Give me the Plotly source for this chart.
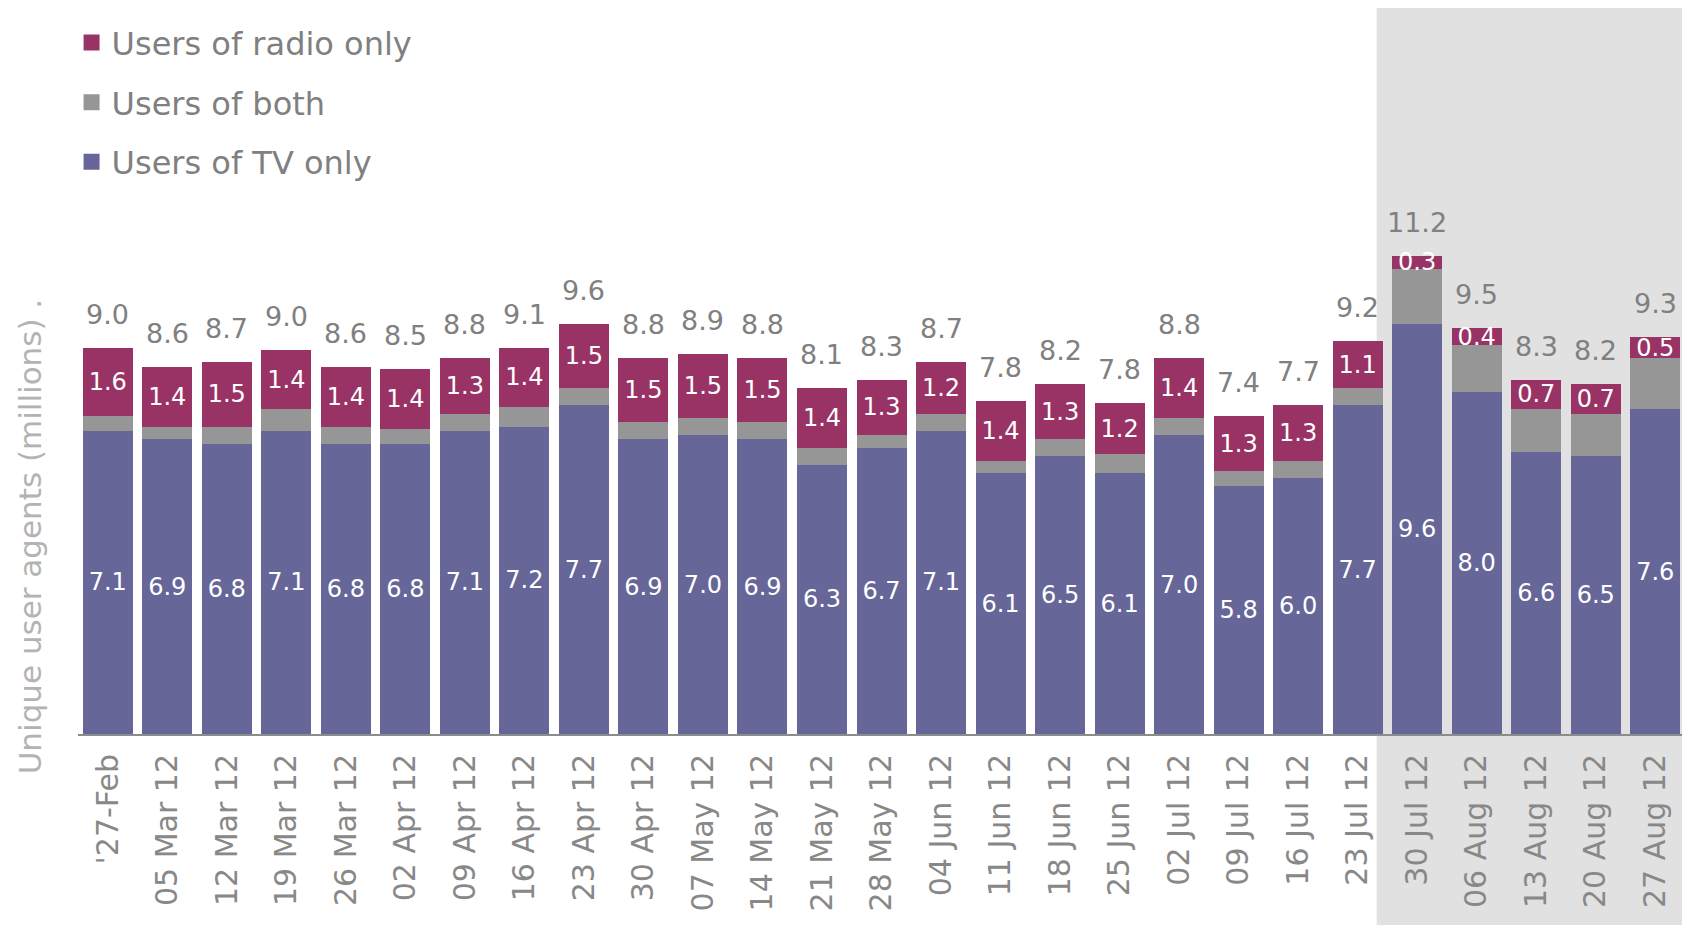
import plotly.graph_objects as go

categories = ["'27-Feb", "05 Mar 12", "12 Mar 12", "19 Mar 12", "26 Mar 12", "02 Apr 12",
              "09 Apr 12", "16 Apr 12", "23 Apr 12", "30 Apr 12", "07 May 12", "14 May 12",
              "21 May 12", "28 May 12", "04 Jun 12", "11 Jun 12", "18 Jun 12", "25 Jun 12",
              "02 Jul 12", "09 Jul 12", "16 Jul 12", "23 Jul 12", "30 Jul 12", "06 Aug 12",
              "13 Aug 12", "20 Aug 12", "27 Aug 12"]
tv_only = [7.1, 6.9, 6.8, 7.1, 6.8, 6.8, 7.1, 7.2, 7.7, 6.9, 7.0, 6.9, 6.3, 6.7, 7.1, 6.1,
           6.5, 6.1, 7.0, 5.8, 6.0, 7.7, 9.6, 8.0, 6.6, 6.5, 7.6]
both = [0.35, 0.3, 0.4, 0.5, 0.4, 0.35, 0.4, 0.45, 0.4, 0.4, 0.4, 0.4, 0.4, 0.3, 0.4, 0.3,
        0.4, 0.45, 0.4, 0.35, 0.4, 0.4, 1.3, 1.1, 1.0, 1.0, 1.2]
radio_only = [1.6, 1.4, 1.5, 1.4, 1.4, 1.4, 1.3, 1.4, 1.5, 1.5, 1.5, 1.5, 1.4, 1.3, 1.2, 1.4,
              1.3, 1.2, 1.4, 1.3, 1.3, 1.1, 0.3, 0.4, 0.7, 0.7, 0.5]
totals = [9.0, 8.6, 8.7, 9.0, 8.6, 8.5, 8.8, 9.1, 9.6, 8.8, 8.9, 8.8, 8.1, 8.3, 8.7, 7.8,
          8.2, 7.8, 8.8, 7.4, 7.7, 9.2, 11.2, 9.5, 8.3, 8.2, 9.3]
series_names = ["Users of radio only", "Users of both", "Users of TV only"]
highlight_start = 22  # first week of highlighted period (30 Jul 12)

FONT = "DejaVu Sans"
C_TV = "#666699"
C_BOTH = "#969696"
C_RADIO = "#993366"
series_colors = [C_RADIO, C_BOTH, C_TV]

fig = go.Figure()
common = dict(textposition="inside", insidetextanchor="middle", textangle=0,
              constraintext="none", cliponaxis=False, showlegend=False,
              textfont=dict(family=FONT, size=24, color="white"))
fig.add_trace(go.Bar(x=categories, y=tv_only, name=series_names[2],
                     marker=dict(color=C_TV, line=dict(width=0)),
                     text=[f"{v:.1f}" for v in tv_only], **common))
fig.add_trace(go.Bar(x=categories, y=both, name=series_names[1], showlegend=False,
                     marker=dict(color=C_BOTH, line=dict(width=0))))
fig.add_trace(go.Bar(x=categories, y=radio_only, name=series_names[0],
                     marker=dict(color=C_RADIO, line=dict(width=0)),
                     text=[f"{v:.1f}" for v in radio_only], **common))

# legend entries with square swatches
for i, (nm, col) in enumerate(zip(series_names, series_colors)):
    fig.add_trace(go.Scatter(x=[None], y=[None], mode="markers", name=nm,
                             legendgroup=f"g{i}",
                             marker=dict(symbol="square", size=19, color=col),
                             showlegend=True))

annotations = []
for c, t, a, b, r in zip(categories, totals, tv_only, both, radio_only):
    annotations.append(dict(x=c, y=a + b + r, xref="x", yref="y", text=f"{t:.1f}",
                            showarrow=False, yanchor="bottom", yshift=16,
                            font=dict(family=FONT, size=27, color="#808080")))
annotations.append(dict(x=-0.03, y=0.272, xref="paper", yref="paper",
                        text="Unique user agents (millions) .", textangle=-90,
                        showarrow=False, xanchor="center", yanchor="middle",
                        font=dict(family=FONT, size=31, color="#b3b3b3")))

n = len(categories)
fig.update_layout(
    width=1690, height=925,
    margin=dict(l=70, r=13, t=0, b=199, autoexpand=False),
    barmode="stack", bargap=0.16,
    paper_bgcolor="white", plot_bgcolor="rgba(0,0,0,0)",
    showlegend=True,
    legend=dict(x=-0.004, y=0.99, xanchor="left", yanchor="top",
                traceorder="grouped", itemsizing="trace",
                font=dict(family=FONT, size=32, color="#808080"),
                bgcolor="rgba(0,0,0,0)", tracegroupgap=15),
    xaxis=dict(type="category", showline=True, linecolor="#8c8c8c", linewidth=2,
               ticks="", tickangle=-90, ticklabelstandoff=6, automargin=False,
               tickfont=dict(family=FONT, size=30, color="#888888"),
               showgrid=False, zeroline=False, fixedrange=True),
    yaxis=dict(visible=False, range=[0, 17], showgrid=False, zeroline=False),
    annotations=annotations,
    shapes=[dict(type="rect", xref="paper", yref="paper",
                 x0=(highlight_start - 0.18) / n, x1=1.0, y0=-0.4, y1=1.0,
                 fillcolor="#e1e1e1", line=dict(width=0), layer="below")],
)

fig.write_html("out.html")
